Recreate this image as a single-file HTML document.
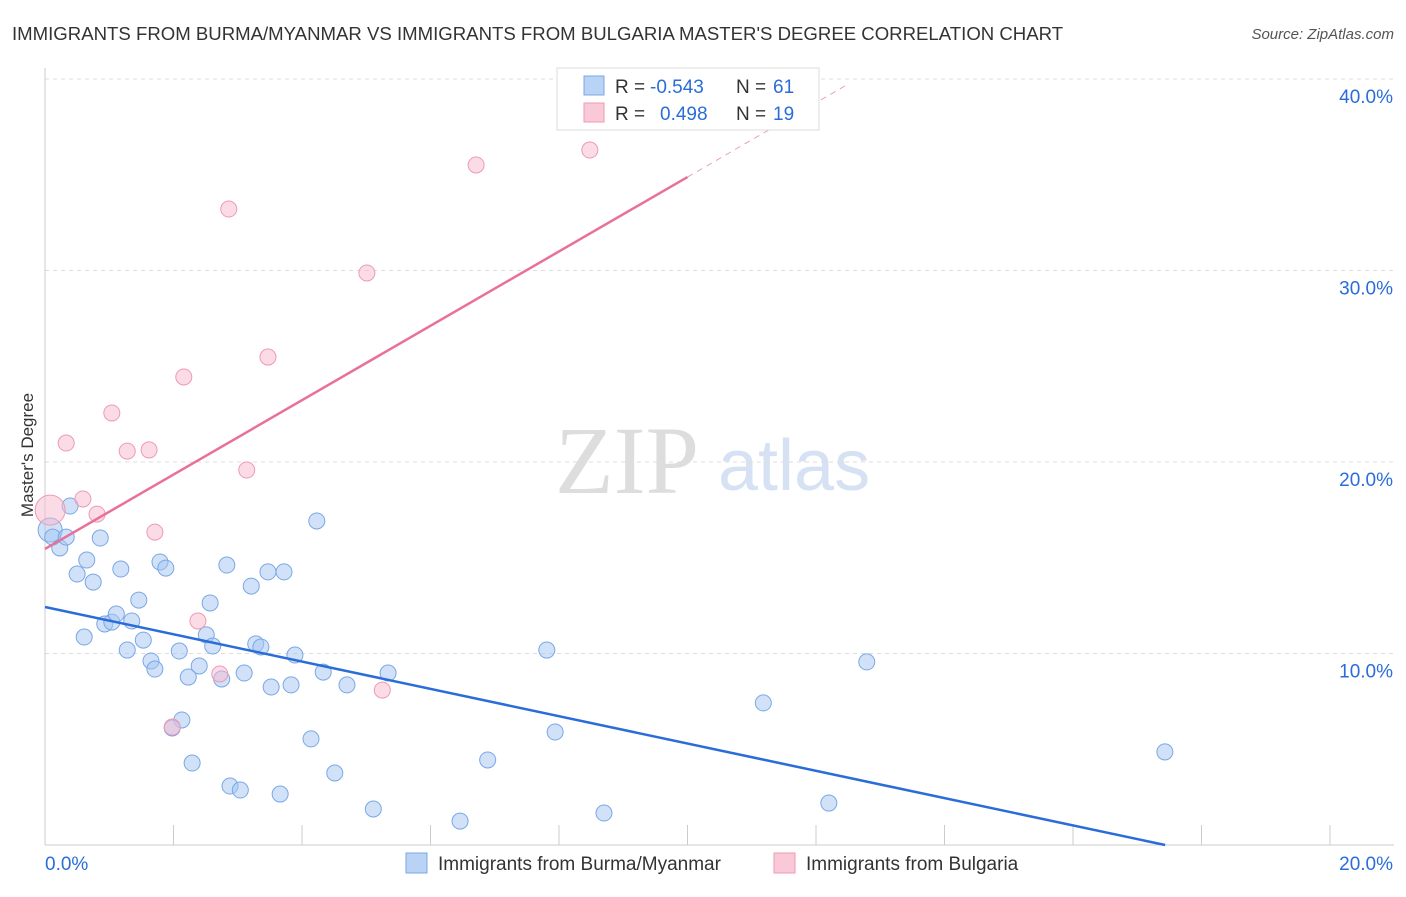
<!DOCTYPE html>
<html><head><meta charset="utf-8"><style>
body{margin:0;background:#fff;font-family:"Liberation Sans",sans-serif}
#wrap{position:relative;width:1406px;height:892px}
</style></head><body>
<div id="wrap">
<svg id="chart" width="1406" height="892">
<text x="12" y="40" font-size="18.6" fill="#333">IMMIGRANTS FROM BURMA/MYANMAR VS IMMIGRANTS FROM BULGARIA MASTER'S DEGREE CORRELATION CHART</text>
<text x="1394" y="39" font-size="15" fill="#555" text-anchor="end" font-style="italic">Source: ZipAtlas.com</text>
<text x="33" y="455" font-size="17" fill="#333" text-anchor="middle" transform="rotate(-90 33 455)">Master's Degree</text>
<text x="555" y="493" font-size="96" fill="#ddd" font-family="Liberation Serif,serif">ZIP</text>
<text x="718" y="490" font-size="72" fill="#d6e2f3">atlas</text>
<g id="grid"></g><g id="axes"></g><g id="marks"></g>
<g>
<rect x="557" y="68" width="262" height="62" fill="#fff" stroke="#ddd"/>
<rect x="584" y="76" width="20" height="19" fill="#b9d3f5" stroke="#7aa7e6"/>
<rect x="584" y="103" width="20" height="19" fill="#f9c9d7" stroke="#ee9ab4"/>
<text x="615" y="93" font-size="19" fill="#333">R =</text>
<text x="650" y="93" font-size="19" fill="#2a6dd9">-0.543</text>
<text x="736" y="93" font-size="19" fill="#333">N =</text>
<text x="773" y="93" font-size="19" fill="#2a6dd9">61</text>
<text x="615" y="120" font-size="19" fill="#333">R =</text>
<text x="660" y="120" font-size="19" fill="#2a6dd9">0.498</text>
<text x="736" y="120" font-size="19" fill="#333">N =</text>
<text x="773" y="120" font-size="19" fill="#2a6dd9">19</text>
</g>
<g>
<rect x="406" y="853" width="21" height="20" fill="#b9d3f5" stroke="#7aa7e6"/>
<text x="438" y="870" font-size="19" fill="#333">Immigrants from Burma/Myanmar</text>
<rect x="774" y="853" width="21" height="20" fill="#f9c9d7" stroke="#ee9ab4"/>
<text x="806" y="870" font-size="19" fill="#333">Immigrants from Bulgaria</text>
</g>
</svg></div>
<script>
const burmaX=[0.08,0.12,0.23,0.33,0.39,0.50,0.61,0.65,0.75,0.86,0.93,1.04,1.11,1.18,1.28,1.35,1.46,1.53,1.65,1.71,1.79,1.88,2.09,2.23,2.29,2.40,2.51,2.57,2.61,2.75,2.83,2.88,3.04,3.10,3.21,3.28,3.36,3.47,3.52,3.66,3.72,3.83,3.89,4.14,4.23,4.33,4.51,4.70,5.11,5.34,6.46,6.89,7.81,7.94,8.70,11.18,12.20,12.79,17.43,2.13,1.98];
const burmaY=[16.45,16.08,15.51,16.08,17.70,14.15,10.86,14.88,13.73,16.03,11.54,11.64,12.06,14.41,10.18,11.70,12.79,10.70,9.61,9.19,14.78,14.46,10.13,8.77,4.28,9.35,10.97,12.64,10.39,8.67,14.62,3.08,2.87,8.98,13.52,10.50,10.34,14.26,8.25,2.66,14.26,8.36,9.92,5.54,16.92,9.03,3.76,8.36,1.88,8.98,1.25,4.44,10.18,5.90,1.67,7.42,2.19,9.56,4.86,6.53,6.11];
const bulgX=[0.08,0.33,0.59,0.81,1.04,1.28,1.62,1.71,1.98,2.16,2.38,2.72,2.86,3.14,3.47,5.01,5.25,6.71,8.48];
const bulgY=[17.49,20.99,18.07,17.28,22.56,20.57,20.63,16.34,6.16,24.44,11.70,8.93,33.21,19.58,25.48,29.87,8.09,35.51,36.29];
const trendBurma=[12.43,-0.713]; // intercept, slope
const trendBulg=[15.46,1.942];
const xTicks=[0,20];const yTicks=[10,20,30,40];
const sx=v=>45+v*64.25, sy=v=>845-v*19.15;
const NS="http://www.w3.org/2000/svg";
function mk(t,a,p){const e=document.createElementNS(NS,t);for(const k in a)e.setAttribute(k,a[k]);p.appendChild(e);return e;}
const grid=document.getElementById('grid'),axes=document.getElementById('axes'),marks=document.getElementById('marks');
yTicks.forEach(v=>{const l=mk('line',{x1:45,x2:1394,y1:sy(v),y2:sy(v),stroke:'#ddd','stroke-dasharray':'4,4'},grid);


const t=mk('text',{x:1393,y:sy(v)+24,'font-size':19,fill:'#2a6dd9','text-anchor':'end'},axes);t.textContent=v.toFixed(1)+'%';

});
mk('line',{x1:45,x2:45,y1:68,y2:845,stroke:'#ccc'},axes);
mk('line',{x1:45,x2:1394,y1:845,y2:845,stroke:'#ccc'},axes);
for(let i=0;i<=10;i++){mk('line',{x1:sx(i*2),x2:sx(i*2),y1:825,y2:845,stroke:'#ccc'},axes);}
xTicks.forEach((v,i)=>{const t=mk('text',{x:i?1393:45,y:870,'font-size':19,fill:'#2a6dd9','text-anchor':i?'end':'start'},axes);t.textContent=v.toFixed(1)+'%';

});
burmaX.forEach((x,i)=>{const c=mk('circle',{cx:sx(x),cy:sy(burmaY[i]),r:i==0?12:8,fill:'rgba(164,198,242,0.5)',stroke:'#7aa7e6','stroke-width':1},marks);

});
bulgX.forEach((x,i)=>{const c=mk('circle',{cx:sx(x),cy:sy(bulgY[i]),r:i==0?15:8,fill:'rgba(247,186,206,0.5)',stroke:'#ee9ab4','stroke-width':1},marks);

});
const bx2=-trendBurma[0]/trendBurma[1];
const tb=mk('line',{x1:sx(0),y1:sy(trendBurma[0]),x2:sx(bx2),y2:sy(0),stroke:'#2a6dd9','stroke-width':2.5},marks);


const tp=mk('line',{x1:sx(0),y1:sy(trendBulg[0]),x2:sx(10),y2:sy(trendBulg[0]+10*trendBulg[1]),stroke:'#e8709a','stroke-width':2.5},marks);


const td=mk('line',{x1:sx(10),y1:sy(trendBulg[0]+10*trendBulg[1]),x2:sx(12.5),y2:sy(trendBulg[0]+12.5*trendBulg[1]),stroke:'#e8a0b8','stroke-width':1,'stroke-dasharray':'6,5'},marks);


</script></body></html>
